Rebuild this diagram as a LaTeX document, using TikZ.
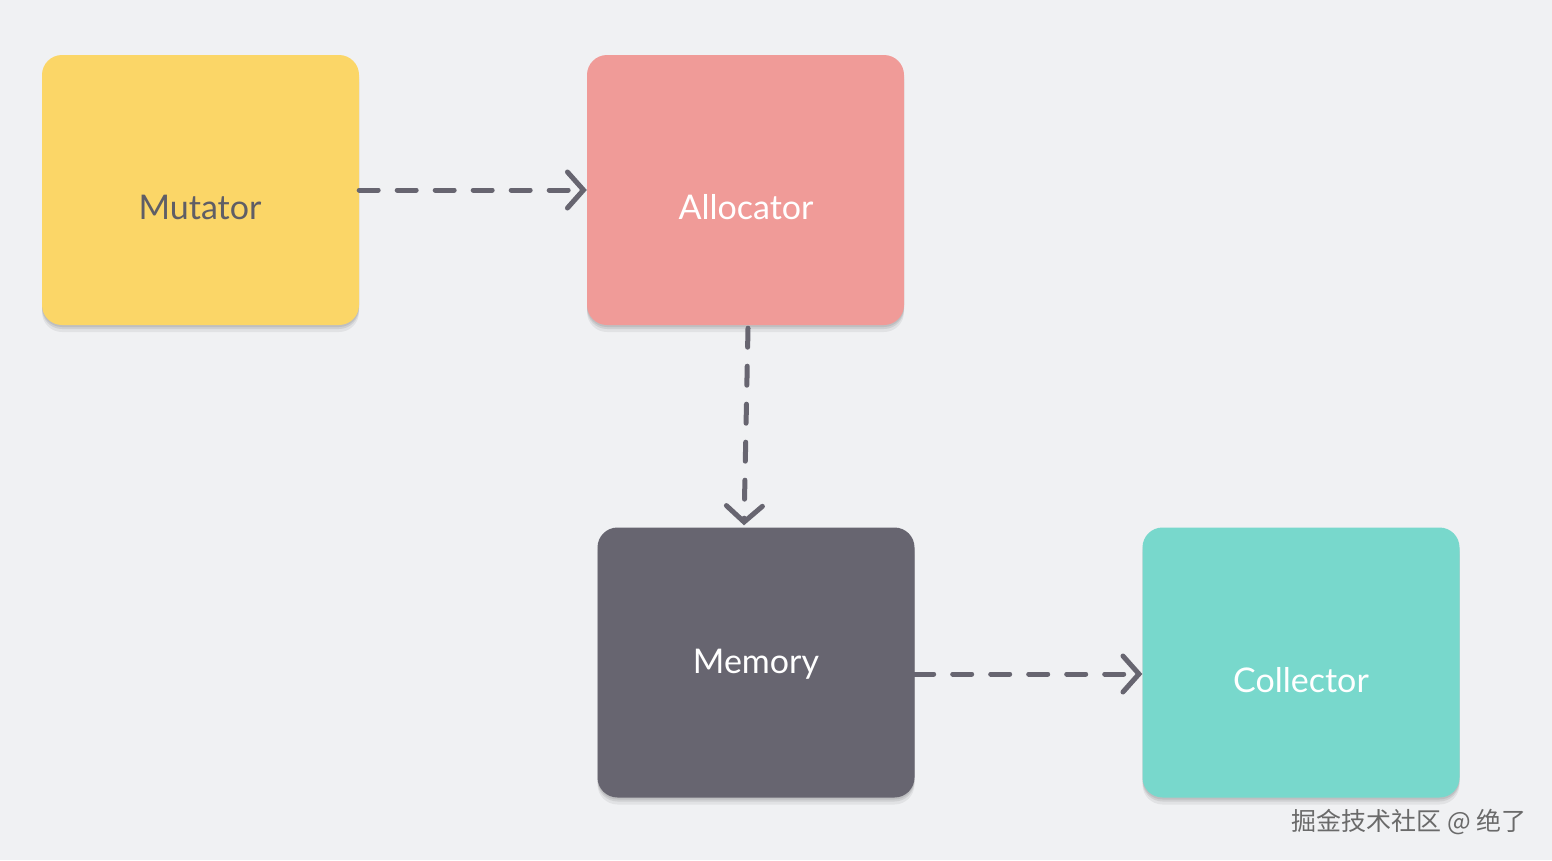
\documentclass[tikz,border=0pt]{standalone}
\usepackage{fontspec}
\setmainfont{Lato}
\newfontfamily\cjk{Noto Sans CJK SC}
\usetikzlibrary{arrows.meta,calc}
\definecolor{bgc}{HTML}{F0F1F3}
\definecolor{yel}{HTML}{FBD667}
\definecolor{pnk}{HTML}{F09B98}
\definecolor{gry}{HTML}{676570}
\definecolor{tea}{HTML}{78D8CC}
\definecolor{txtg}{HTML}{5F5E66}
\definecolor{wm}{HTML}{6A6A6A}
\tikzset{
  box/.style={rounded corners=20pt, minimum width=317pt, minimum height=270pt,
    inner sep=0pt,
    preaction={fill=black, fill opacity=0.06, transform canvas={yshift=-7pt}},
    preaction={fill=black, fill opacity=0.08, transform canvas={yshift=-4pt}},
    preaction={fill=black, fill opacity=0.08, transform canvas={yshift=-2pt}}},
  lbl/.style={font=\fontsize{34}{40}\selectfont},
  conn/.style={draw=gry, line width=5pt, line cap=round, dash pattern=on 19pt off 19pt,
    -{Straight Barb[length=16pt,width=36pt,line width=5pt,line cap=round]}}
}
\begin{document}
\begin{tikzpicture}[x=1pt,y=-1pt]
\fill[bgc] (0,0) rectangle (1552,860);
\useasboundingbox (0,0) rectangle (1552,860);
\node[box, fill=yel] (mut) at (200.5,190) {};
\node[lbl, text=txtg] (mutt) at (200,207) {Mutator};
\node[box, fill=pnk] (alloc) at (745.5,190) {};
\node[lbl, text=white] (allt) at (746,207) {Allocator};
\node[box, fill=gry] (mem) at (756,662.5) {};
\node[lbl, text=white] (memt) at (756,664) {Memory};
\node[box, fill=tea] (col) at (1301,662.5) {};
\node[lbl, text=white] (colt) at (1301,680) {Collector};
\draw[conn] (mut.east) -- (alloc.west);
\draw[conn] ($(alloc.south)+(2.5,3)$) -- ($(mem.north)+(-12,-2)$);
\draw[conn] ($(mem.east)+(0,11.5)$) -- ($(col.west)+(0,11.5)$);
\node[text=wm, font=\cjk\fontsize{25}{29}\selectfont, anchor=east] (wmk) at (1530,822) {掘金技术社区 @ 绝了};
\end{tikzpicture}
\end{document}
